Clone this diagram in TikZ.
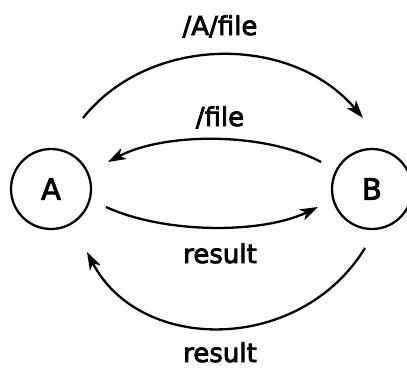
\documentclass[tikz,border=0pt]{standalone}
\usepackage{fontspec}
\setmainfont{DejaVu Sans}[FakeBold=3]
\usetikzlibrary{calc,arrows.meta}
\begin{document}
\begin{tikzpicture}[x=1pt,y=1pt,
  state/.style={circle,draw,line width=2.3pt,minimum size=80pt,inner sep=0pt,font=\fontsize{29}{31}\selectfont},
  lbl/.style={font=\fontsize{26}{28}\selectfont,inner sep=0pt},
  flow/.style={line width=2.3pt,-{Stealth[length=18pt,width=12pt,inset=5pt]}}]
  \useasboundingbox (0,0) rectangle (407,368);
  % the two hosts
  \node[state] (A) at (51,179) {A};
  \node[state] (B) at (372,179) {B};
  % end points of the connectors, placed around the hosts
  \coordinate (t1) at ($(A)+(32,71)$);
  \coordinate (t2) at ($(B)+(-9,71)$);
  \coordinate (u1) at ($(B)+(-51,27)$);
  \coordinate (u2) at ($(A)+(57,27)$);
  \coordinate (m1) at ($(A)+(55,-18)$);
  \coordinate (m2) at ($(B)+(-54,-18)$);
  \coordinate (b1) at ($(B)+(-7,-59)$);
  \coordinate (b2) at ($(A)+(36,-63)$);
  % requests and results
  \draw[flow] (t1) .. controls (150,334) and (292,334) .. (t2);
  \draw[flow] (u1) .. controls (265,236) and (165,236) .. (u2);
  \draw[flow] (m1) .. controls (165,134) and (262,134) .. (m2);
  \draw[flow] (b1) .. controls (300,14) and (140,14) .. (b2);
  % labels, set on their baselines
  \node[lbl,anchor=base] (l1) at (220,333) {/A/file};
  \node[lbl,anchor=base] (l2) at (220,242) {/file};
  \node[lbl,anchor=base] (l3) at (220,105) {result};
  \node[lbl,anchor=base] (l4) at (220,6) {result};
\end{tikzpicture}
\end{document}
